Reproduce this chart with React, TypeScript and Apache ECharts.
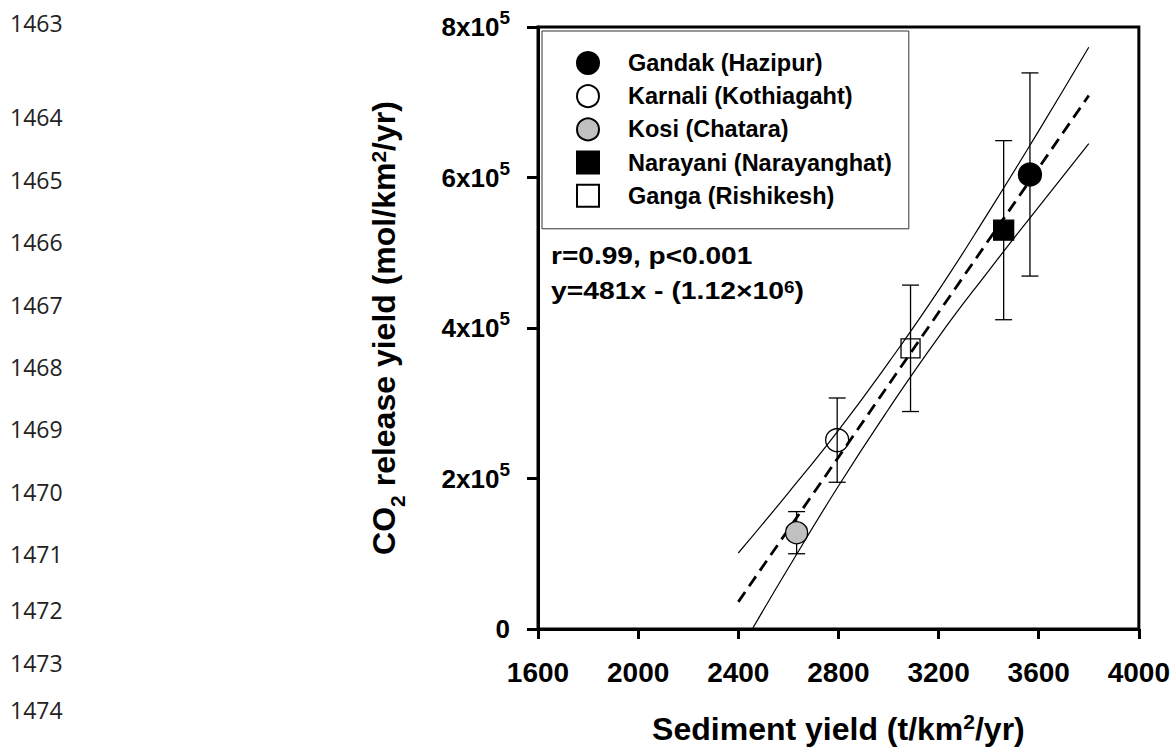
import { useEffect, useRef } from 'react';
import * as echarts from 'echarts';

const FONT = '"Liberation Sans", Arial, Helvetica, sans-serif';

// ---- data ----
const seriesNames = [
  'Gandak (Hazipur)',
  'Karnali (Kothiagaht)',
  'Kosi (Chatara)',
  'Narayani (Narayanghat)',
  'Ganga (Rishikesh)',
];
const sedimentYield = [3565, 2795, 2633, 3460, 3088];
const co2Yield = [604000, 251000, 128000, 530000, 373000];
const co2Error = [135000, 56000, 28000, 119000, 84000];

const regressionLine = [
  [2400, 36000],
  [3800, 709000],
];
const upperCI = [
  [2400, 101000],
  [2600, 181000],
  [2800, 264000],
  [3000, 354000],
  [3200, 450000],
  [3400, 554000],
  [3600, 662000],
  [3800, 773000],
];
const lowerCI = [
  [2456, 0],
  [2600, 81000],
  [2800, 190000],
  [3000, 292000],
  [3200, 388000],
  [3400, 476000],
  [3600, 561000],
  [3800, 645000],
];

const xTicks = [1600, 2000, 2400, 2800, 3200, 3600, 4000];
const yTicks = [0, 200000, 400000, 600000, 800000];

const statLine = 'r=0.99, p<0.001';
const eqLine = ['y=481x - (1.12×10', '6', ')'];

const lineNumbers = ['1463', '1464', '1465', '1466', '1467', '1468', '1469', '1470', '1471', '1472', '1473', '1474'];
const lineNumberY = [23, 117, 180, 242, 305, 367, 429, 492, 554, 610, 663, 710];

// ---- styles ----
const markerStyles = [
  { symbol: 'circle', size: 23, fill: '#000000' },
  { symbol: 'circle', size: 23, fill: 'rgba(0,0,0,0)' },
  { symbol: 'circle', size: 22, fill: '#c0c0c0' },
  { symbol: 'rect', size: 20, fill: '#000000' },
  { symbol: 'rect', size: 19, fill: 'rgba(0,0,0,0)' },
];

export default function App() {
  const ref = useRef<HTMLDivElement>(null);

  useEffect(() => {
    if (!ref.current) return;
    const chart = echarts.init(ref.current, undefined, { renderer: 'svg' });

    const xInterval = xTicks[1] - xTicks[0];
    const yInterval = yTicks[1] - yTicks[0];

    const scatterSeries = seriesNames.map((name, i) => ({
      name,
      type: 'scatter',
      data: [[sedimentYield[i], co2Yield[i]]],
      symbol: markerStyles[i].symbol,
      symbolSize: markerStyles[i].size,
      itemStyle: {
        color: markerStyles[i].fill,
        borderColor: '#000',
        borderWidth: 1.3,
        opacity: 1,
      },
      z: 5,
      silent: true,
    }));

    const errorSeries = {
      type: 'custom',
      name: 'error',
      data: sedimentYield.map((x, i) => [x, co2Yield[i] - co2Error[i], co2Yield[i] + co2Error[i]]),
      encode: { x: 0, y: [1, 2] },
      z: 3,
      silent: true,
      renderItem: (_params: any, api: any) => {
        const lo = api.coord([api.value(0), api.value(1)]);
        const hi = api.coord([api.value(0), api.value(2)]);
        const w = 8.5;
        const style = { stroke: '#000', lineWidth: 1.3, fill: 'none' };
        return {
          type: 'group',
          children: [
            { type: 'line', shape: { x1: lo[0], y1: lo[1], x2: hi[0], y2: hi[1] }, style },
            { type: 'line', shape: { x1: lo[0] - w, y1: lo[1], x2: lo[0] + w, y2: lo[1] }, style },
            { type: 'line', shape: { x1: hi[0] - w, y1: hi[1], x2: hi[0] + w, y2: hi[1] }, style },
          ],
        };
      },
    };

    const lineBase = {
      type: 'line',
      showSymbol: false,
      symbol: 'none',
      silent: true,
      z: 3,
    };

    const option: any = {
      animation: false,
      backgroundColor: '#ffffff',
      grid: {
        left: 538,
        right: 34,
        top: 27,
        bottom: 121,
        show: true,
        borderColor: '#000',
        borderWidth: 3,
        backgroundColor: 'transparent',
      },
      xAxis: {
        type: 'value',
        min: xTicks[0],
        max: xTicks[xTicks.length - 1],
        interval: xInterval,
        splitLine: { show: false },
        axisLine: { show: true, onZero: false, lineStyle: { color: '#000', width: 3 } },
        axisTick: { show: true, inside: false, length: 10, lineStyle: { color: '#000', width: 3 } },
        axisLabel: {
          margin: 29,
          color: '#000',
          fontSize: 28,
          fontWeight: 'bold',
          fontFamily: FONT,
          formatter: (v: number) => String(v),
        },
        name: '{t|Sediment yield (t/km}{sup|2}{t|/yr)}',
        nameLocation: 'middle',
        nameGap: 82,
        nameTextStyle: {
          rich: {
            t: { fontSize: 32, fontWeight: 'bold', fontFamily: FONT, color: '#000', lineHeight: 36, verticalAlign: 'middle' },
            sup: { fontSize: 21, fontWeight: 'bold', fontFamily: FONT, color: '#000', lineHeight: 21, verticalAlign: 'top' },
          },
        },
      },
      yAxis: {
        type: 'value',
        min: yTicks[0],
        max: yTicks[yTicks.length - 1],
        interval: yInterval,
        splitLine: { show: false },
        axisLine: { show: true, onZero: false, lineStyle: { color: '#000', width: 3 } },
        axisTick: { show: true, inside: false, length: 11, lineStyle: { color: '#000', width: 3 } },
        axisLabel: {
          margin: 28,
          color: '#000',
          formatter: (v: number) => (v === 0 ? '{b|0}' : `{b|${Math.round(v / 100000)}x10}{s|5}`),
          rich: {
            b: { fontSize: 26, fontWeight: 'bold', fontFamily: FONT, color: '#000', lineHeight: 26, verticalAlign: 'middle' },
            s: { fontSize: 19, fontWeight: 'bold', fontFamily: FONT, color: '#000', lineHeight: 19, verticalAlign: 'bottom', padding: [0, 0, 13, 0] },
          },
        },
        name: '{t|CO}{sub|2}{t| release yield (mol/km}{sup|2}{t|/yr)}',
        nameLocation: 'middle',
        nameRotate: 90,
        nameGap: 134,
        nameTextStyle: {
          rich: {
            t: { fontSize: 32, fontWeight: 'bold', fontFamily: FONT, color: '#000', lineHeight: 36, verticalAlign: 'top' },
            sup: { fontSize: 21, fontWeight: 'bold', fontFamily: FONT, color: '#000', lineHeight: 21, verticalAlign: 'top' },
            sub: { fontSize: 21, fontWeight: 'bold', fontFamily: FONT, color: '#000', lineHeight: 21, verticalAlign: 'top', padding: [19, 0, 0, 0] },
          },
        },
      },
      legend: {
        data: seriesNames,
        orient: 'vertical',
        left: 542,
        top: 31,
        itemWidth: 22,
        itemHeight: 22,
        itemGap: 9.2,
        padding: [20, 17, 21, 34],
        borderColor: '#333',
        borderWidth: 1,
        backgroundColor: '#fff',
        selectedMode: false,
        textStyle: {
          fontSize: 23.5,
          fontWeight: 'bold',
          fontFamily: FONT,
          color: '#000',
          padding: [0, 0, 0, 24],
        },
        z: 10,
      },
      graphic: [
        {
          type: 'text',
          x: 551,
          y: 244,
          scaleX: 1.17,
          style: {
            text: statLine,
            fontSize: 24,
            fontWeight: 'bold',
            fontFamily: FONT,
            fill: '#000',
            verticalAlign: 'top',
          },
          z: 20,
        },
        {
          type: 'text',
          x: 551,
          y: 277,
          scaleX: 1.18,
          style: {
            text: `{t|${eqLine[0]}}{s|${eqLine[1]}}{t|${eqLine[2]}}`,
            verticalAlign: 'top',
            rich: {
              t: { fontSize: 24, fontWeight: 'bold', fontFamily: FONT, fill: '#000', lineHeight: 28, verticalAlign: 'middle' },
              s: { fontSize: 16, fontWeight: 'bold', fontFamily: FONT, fill: '#000', lineHeight: 16, verticalAlign: 'top', padding: [3, 0, 0, 0] },
            },
          },
          z: 20,
        },
        ...lineNumbers.map((t, i) => ({
          type: 'text',
          x: 10,
          y: lineNumberY[i],
          style: {
            text: t,
            fontSize: 23,
            fontFamily: '"Open Sans", "Noto Sans", sans-serif',
            fill: '#222',
            verticalAlign: 'middle',
          },
        })),
      ],
      series: [
        errorSeries,
        { ...lineBase, name: 'upperCI', data: upperCI, smooth: true, lineStyle: { color: '#000', width: 1.2 } },
        { ...lineBase, name: 'lowerCI', data: lowerCI, smooth: true, lineStyle: { color: '#000', width: 1.2 } },
        { ...lineBase, name: 'fit', data: regressionLine, lineStyle: { color: '#000', width: 2.8, type: [12, 7] } },
        ...scatterSeries,
      ],
    };

    chart.setOption(option);
    return () => chart.dispose();
  }, []);

  return (
    <div
      ref={ref}
      style={{ position: 'fixed', left: 0, top: 0, width: 1173, height: 750, background: '#fff' }}
    />
  );
}
